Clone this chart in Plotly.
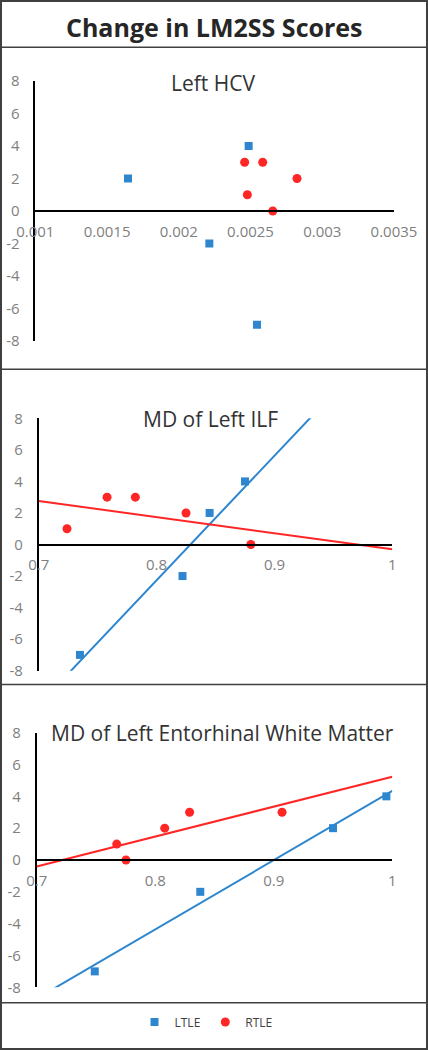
import numpy as np
import plotly.graph_objects as go

# ---------------- data ----------------
panel_titles = ["Left HCV", "MD of Left ILF", "MD of Left Entorhinal White Matter"]
series_names = ["LTLE", "RTLE"]

hcv_ltle_x = [0.001646, 0.002487, 0.002213, 0.002545]
hcv_ltle_y = [2, 4, -2, -7]
hcv_rtle_x = [0.002459, 0.002585, 0.002824, 0.002478, 0.002655]
hcv_rtle_y = [3, 3, 2, 1, 0]

ilf_ltle_x = [0.735, 0.822, 0.845, 0.875]
ilf_ltle_y = [-7, -2, 2, 4]
ilf_rtle_x = [0.724, 0.758, 0.782, 0.825, 0.880]
ilf_rtle_y = [1, 3, 3, 2, 0]

ent_ltle_x = [0.749, 0.838, 0.950, 0.995]
ent_ltle_y = [-7, -2, 2, 4]
ent_rtle_x = [0.7675, 0.7753, 0.808, 0.829, 0.907]
ent_rtle_y = [1, 0, 2, 3, 3]

y_tickvals = [-8, -6, -4, -2, 0, 2, 4, 6, 8]
y_ticktext = ["-8", "-6", "-4", "-2", "0", "2", "4", "6", "8"]
hcv_tickvals = [0.001, 0.0015, 0.002, 0.0025, 0.003, 0.0035]
hcv_ticktext = ["0.001", "0.0015", "0.002", "0.0025", "0.003", "0.0035"]
md_tickvals = [0.7, 0.8, 0.9, 1.0]
md_ticktext = ["0.7", "0.8", "0.9", "1"]

# ---------------- styling ----------------
W, H = 428, 1050
BLUE = "#2E86CF"
RED = "#FF2626"
TICK_COLOR = "#7F7F7F"
FONT = "Open Sans"


def px_x(p):
    return p / W


def px_y(p):
    return 1 - p / H


fig = go.Figure()

panels = [
    dict(lx=hcv_ltle_x, ly=hcv_ltle_y, rx=hcv_rtle_x, ry=hcv_rtle_y, trend=False,
         xr=[hcv_tickvals[0], hcv_tickvals[-1]], tv=hcv_tickvals, tt=hcv_ticktext,
         xdom=(35.3, 394.0), ydom=(81.0, 341.0), title_xy=(213, 82.7)),
    dict(lx=ilf_ltle_x, ly=ilf_ltle_y, rx=ilf_rtle_x, ry=ilf_rtle_y, trend=True,
         xr=[md_tickvals[0], md_tickvals[-1]], tv=md_tickvals, tt=md_ticktext,
         xdom=(38.7, 392.3), ydom=(418.3, 670.7), title_xy=(210, 419)),
    dict(lx=ent_ltle_x, ly=ent_ltle_y, rx=ent_rtle_x, ry=ent_rtle_y, trend=True,
         xr=[md_tickvals[0], md_tickvals[-1]], tv=md_tickvals, tt=md_ticktext,
         xdom=(36.7, 392.3), ydom=(732.7, 987.3), title_xy=(222.7, 732.7)),
]

annotations = []
for i, p in enumerate(panels):
    n = "" if i == 0 else str(i + 1)
    xa, ya = "x" + n, "y" + n
    first = i == 0
    if p["trend"]:
        tx = np.array(p["xr"])
        for xs, ys, col in ((p["lx"], p["ly"], BLUE), (p["rx"], p["ry"], RED)):
            k, b = np.polyfit(xs, ys, 1)
            fig.add_trace(go.Scatter(x=tx, y=k * tx + b, mode="lines",
                                     line=dict(color=col, width=2),
                                     showlegend=False, hoverinfo="skip",
                                     xaxis=xa, yaxis=ya))
    fig.add_trace(go.Scatter(x=p["lx"], y=p["ly"], mode="markers", name=series_names[0],
                             marker=dict(symbol="square", size=8, color=BLUE),
                             showlegend=first, legendrank=1, xaxis=xa, yaxis=ya, cliponaxis=False))
    fig.add_trace(go.Scatter(x=p["rx"], y=p["ry"], mode="markers", name=series_names[1],
                             marker=dict(symbol="circle", size=9, color=RED),
                             showlegend=first, legendrank=2, xaxis=xa, yaxis=ya, cliponaxis=False))

    ybot, ytop = px_y(p["ydom"][1]), px_y(p["ydom"][0])
    fig.layout["xaxis" + n] = dict(
        domain=[px_x(p["xdom"][0]), px_x(p["xdom"][1])], range=p["xr"],
        anchor="free", position=(ybot + ytop) / 2, automargin=False,
        showline=True, linecolor="black", linewidth=1.5,
        showgrid=False, zeroline=False, ticks="",
        tickvals=p["tv"], ticktext=p["tt"],
        tickfont=dict(family=FONT, size=15, color=TICK_COLOR),
        ticklabelstandoff=7,
    )
    fig.layout["yaxis" + n] = dict(
        domain=[ybot, ytop], range=[-8, 8], anchor=xa, automargin=False,
        showline=True, linecolor="black", linewidth=1.5,
        showgrid=False, zeroline=False, ticks="",
        tickvals=y_tickvals, ticktext=y_ticktext,
        tickfont=dict(family=FONT, size=15, color=TICK_COLOR),
        ticklabelstandoff=11,
    )
    annotations.append(dict(text=panel_titles[i], xref="paper", yref="paper",
                            x=px_x(p["title_xy"][0]), y=px_y(p["title_xy"][1]),
                            xanchor="center", yanchor="middle", showarrow=False,
                            font=dict(family=FONT, size=21, color="#333333")))

annotations.append(dict(text="<b>Change in LM2SS Scores</b>", xref="paper", yref="paper",
                        x=0.5, y=px_y(27), xanchor="center", yanchor="middle",
                        showarrow=False, font=dict(family=FONT, size=25, color="#262626")))

shapes = [dict(type="rect", xref="paper", yref="paper", x0=px_x(1), x1=px_x(427),
               y0=px_y(1049), y1=px_y(1), line=dict(color="#404040", width=2))]
for yy in (47.3, 369.3, 684.5, 1002.7):
    shapes.append(dict(type="line", xref="paper", yref="paper", x0=px_x(1), x1=px_x(427),
                       y0=px_y(yy), y1=px_y(yy), line=dict(color="#404040", width=1.5)))

fig.update_layout(
    width=W, height=H, margin=dict(l=0, r=0, t=0, b=0, autoexpand=False),
    paper_bgcolor="white", plot_bgcolor="white",
    annotations=annotations, shapes=shapes,
    legend=dict(orientation="h", x=px_x(206), xanchor="center", y=px_y(1022), yanchor="middle",
                font=dict(family=FONT, size=12, color="#404040"), bgcolor="rgba(0,0,0,0)"),
    showlegend=True,
)

fig.write_html("out.html", config={"displayModeBar": False},
               post_script="document.body.style.margin='0';")
